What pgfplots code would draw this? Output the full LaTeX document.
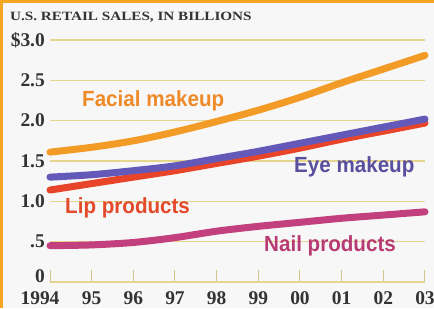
\documentclass[border=0pt]{standalone}
\usepackage{pgfplots}
\pgfplotsset{compat=1.18}
\usepackage{fontspec}
\setmainfont{Liberation Serif}
\newfontfamily\labfont[FakeStretch=0.94]{Liberation Sans}
\newfontfamily\titfont[FakeStretch=1.2]{Liberation Serif}
\definecolor{bgc}{HTML}{F7F7F8}
\definecolor{borderc}{HTML}{F5A623}
\definecolor{gridc}{HTML}{E6D58E}
\definecolor{tickc}{HTML}{333333}
\definecolor{facialL}{HTML}{F29B26}
\definecolor{facialT}{HTML}{EE8A28}
\definecolor{eyeL}{HTML}{6459B8}
\definecolor{eyeT}{HTML}{5A4F9E}
\definecolor{lipL}{HTML}{E8442A}
\definecolor{lipT}{HTML}{E24A2A}
\definecolor{nailL}{HTML}{C2407E}
\definecolor{nailT}{HTML}{B73C73}
\begin{document}
\begin{tikzpicture}[x=1bp,y=1bp]
\fill[bgc] (0,0) rectangle (434,308);
\draw[borderc, line width=3bp] (1.5,0) -- (1.5,306.5) -- (434,306.5);
\node[anchor=base west, inner sep=0pt, text=tickc] at (10,287.3) {\titfont\bfseries\fontsize{12.7}{13}\selectfont U.S. RETAIL SALES, IN BILLIONS};
\begin{axis}[
  at={(50bp,26bp)}, anchor=south west,
  scale only axis, width=375bp, height=242bp,
  xmin=1994, xmax=2003, ymin=0, ymax=3,
  clip=false,
  axis lines*=left,
  axis line style={-},
  y axis line style={draw=none},
  x axis line style={draw=gridc, line width=1.2bp},
  xtick={1995,...,2003},
  xticklabels={95,96,97,98,99,00,01,02,03},
  extra x ticks={1994},
  extra x tick labels={1994},
  extra x tick style={xticklabel style={xshift=-10bp}},
  ytick={0.5,1,1.5,2,2.5,3},
  yticklabels={.5,1.0,1.5,2.0,2.5,\$3.0},
  extra y ticks={0},
  extra y tick labels={0},
  extra y tick style={yticklabel style={yshift=6bp}, ymajorgrids=false},
  xtick align=inside,
  major tick length=12bp,
  xtick style={draw=gridc!80!gray, line width=1bp},
  ytick style={draw=none},
  ymajorgrids,
  grid style={draw=gridc, line width=1.3bp},
  ticklabel style={font=\bfseries\fontsize{19.5}{19.5}\selectfont, text=tickc, inner sep=0pt},
  yticklabel style={anchor=east, xshift=-5bp},
  xticklabel style={anchor=north, yshift=-9bp},
  every axis plot/.append style={line width=7bp, smooth, tension=0.5, line cap=round},
]
\addplot[facialL] coordinates {(1994,1.61)(1995,1.67)(1996,1.75)(1997,1.86)(1998,1.99)(1999,2.13)(2000,2.29)(2001,2.47)(2002,2.64)(2003,2.81)};
\addplot[lipL] coordinates {(1994,1.14)(1995,1.22)(1996,1.30)(1997,1.38)(1998,1.47)(1999,1.56)(2000,1.66)(2001,1.77)(2002,1.87)(2003,1.97)};
\addplot[eyeL] coordinates {(1994,1.30)(1995,1.33)(1996,1.38)(1997,1.44)(1998,1.53)(1999,1.62)(2000,1.72)(2001,1.82)(2002,1.92)(2003,2.02)};
\addplot[nailL] coordinates {(1994,0.45)(1995,0.46)(1996,0.49)(1997,0.55)(1998,0.63)(1999,0.69)(2000,0.74)(2001,0.79)(2002,0.83)(2003,0.87)};
\end{axis}
\node[anchor=base west, inner sep=0pt, text=facialT] at (82,202) {\labfont\bfseries\fontsize{22}{22}\selectfont Facial makeup};
\node[anchor=base west, inner sep=0pt, text=lipT] at (65,95) {\labfont\bfseries\fontsize{22}{22}\selectfont Lip products};
\node[anchor=base west, inner sep=0pt, text=eyeT] at (294,136) {\labfont\bfseries\fontsize{22}{22}\selectfont Eye makeup};
\node[anchor=base west, inner sep=0pt, text=nailT] at (264,57) {\labfont\bfseries\fontsize{22}{22}\selectfont Nail products};
\pgfresetboundingbox
\useasboundingbox (0,0) rectangle (434,308);
\end{tikzpicture}
\end{document}
